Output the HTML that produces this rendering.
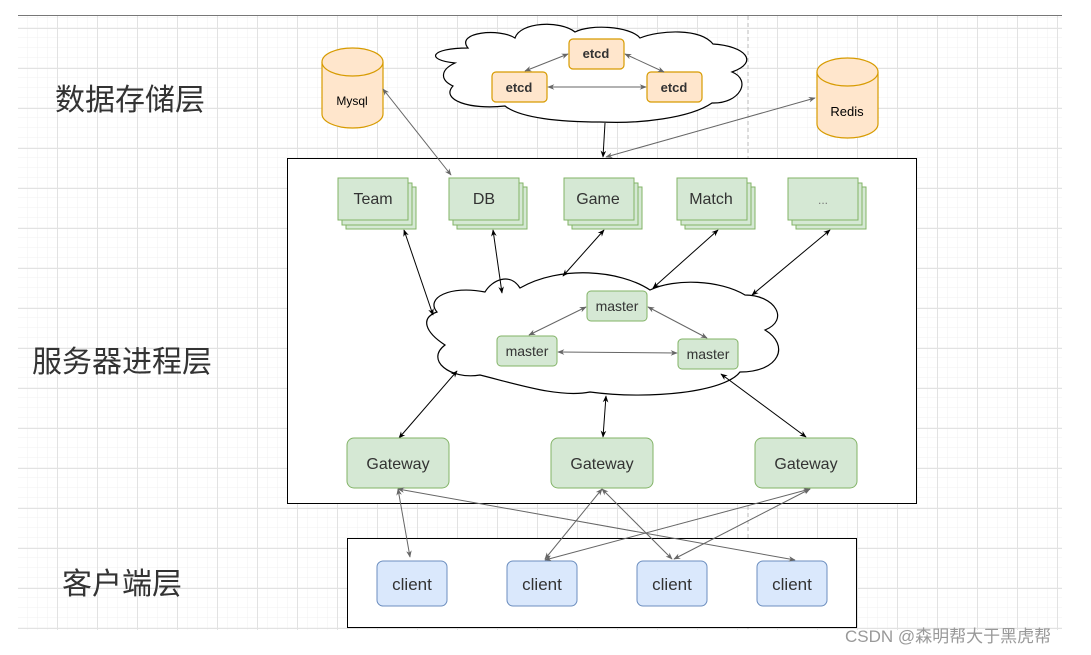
<!DOCTYPE html>
<html><head><meta charset="utf-8"><style>
html,body{margin:0;padding:0;background:#fff;}
svg{display:block;font-family:"Liberation Sans",Arial,sans-serif;}
.cn{font-family:"Liberation Sans","Noto Sans CJK SC",sans-serif;}
</style></head><body>
<svg width="1091" height="655" viewBox="0 0 1091 655" xmlns="http://www.w3.org/2000/svg">
<defs>
<pattern id="gmin" x="18" y="8" width="10" height="10" patternUnits="userSpaceOnUse">
<path d="M10 0V10M0 10H10" stroke="#f0f0f0" stroke-width="1" fill="none"/></pattern>
<pattern id="gmaj" x="17" y="28" width="40" height="40" patternUnits="userSpaceOnUse">
<path d="M0.5 0V40M0 0.5H40" stroke="#e2e2e2" stroke-width="1" fill="none"/></pattern>
<marker id="ag" viewBox="0 0 10 10" refX="9" refY="5" markerWidth="7" markerHeight="7" orient="auto-start-reverse"><path d="M0 1L10 5L0 9L3 5z" fill="#666"/></marker>
<marker id="ab" viewBox="0 0 10 10" refX="9" refY="5" markerWidth="7" markerHeight="7" orient="auto-start-reverse"><path d="M0 1L10 5L0 9L3 5z" fill="#000"/></marker>
</defs>
<rect x="18" y="15" width="1044" height="615" fill="url(#gmin)"/>
<rect x="18" y="15" width="1044" height="615" fill="url(#gmaj)"/>
<line x1="18" y1="15.5" x2="1062" y2="15.5" stroke="#777" stroke-width="1"/>
<line x1="748" y1="16" x2="748" y2="630" stroke="#bbb" stroke-dasharray="4 3"/>

<text class="cn" x="55" y="110" font-size="30" fill="#333">数据存储层</text>
<text class="cn" x="32" y="372" font-size="30" fill="#333">服务器进程层</text>
<text class="cn" x="62" y="594" font-size="30" fill="#333">客户端层</text>

<g fill="#ffe6cc" stroke="#d79b00" stroke-width="1.2">
<path d="M322 62V114A30.5 14 0 0 0 383 114V62"/>
<ellipse cx="352.5" cy="62" rx="30.5" ry="14"/>
<path d="M817 72V124A30.5 14 0 0 0 878 124V72"/>
<ellipse cx="847.5" cy="72" rx="30.5" ry="14"/>
</g>
<text x="352" y="105" font-size="12" text-anchor="middle" fill="#000">Mysql</text>
<text x="847" y="116" font-size="13" text-anchor="middle" fill="#000">Redis</text>

<path d="M468 48C455 32 500 28 515 38C520 22 560 20 575 32C590 24 630 26 640 38C660 30 700 28 713 44C745 46 760 62 732 72C752 80 740 104 712 103C690 118 640 124 600 122C560 122 520 118 505 106C470 110 440 100 453 86C440 80 440 70 455 63C425 60 430 48 468 48Z" fill="#fff" stroke="#000" stroke-width="1.2"/>
<g fill="#ffe6cc" stroke="#d79b00" stroke-width="1.2">
<rect x="569" y="39" width="55" height="30" rx="4"/>
<rect x="492" y="72" width="55" height="30" rx="4"/>
<rect x="647" y="72" width="55" height="30" rx="4"/>
</g>
<g font-size="13" font-weight="bold" text-anchor="middle" fill="#333">
<text x="596" y="58">etcd</text><text x="519" y="92">etcd</text><text x="674" y="92">etcd</text>
</g>
<g stroke="#666" stroke-width="1" marker-start="url(#ag)" marker-end="url(#ag)">
<line x1="568" y1="54" x2="525" y2="71"/>
<line x1="625" y1="54" x2="664" y2="72"/>
<line x1="548" y1="87" x2="646" y2="87"/>
</g>

<rect x="287.5" y="158.5" width="629" height="345" fill="#fff" stroke="#000" stroke-width="1"/>
<line x1="605" y1="123" x2="603" y2="157" stroke="#000" marker-end="url(#ab)"/>
<line x1="606" y1="157" x2="815" y2="98" stroke="#666" marker-start="url(#ag)" marker-end="url(#ag)"/>
<line x1="383" y1="89" x2="451" y2="175" stroke="#666" marker-start="url(#ag)" marker-end="url(#ag)"/>

<g fill="#d5e8d4" stroke="#82b366" stroke-width="1">
<rect x="346" y="187" width="70" height="42"/><rect x="342" y="183" width="70" height="42"/><rect x="338" y="178" width="70" height="42"/>
<rect x="457" y="187" width="70" height="42"/><rect x="453" y="183" width="70" height="42"/><rect x="449" y="178" width="70" height="42"/>
<rect x="572" y="187" width="70" height="42"/><rect x="568" y="183" width="70" height="42"/><rect x="564" y="178" width="70" height="42"/>
<rect x="685" y="187" width="70" height="42"/><rect x="681" y="183" width="70" height="42"/><rect x="677" y="178" width="70" height="42"/>
<rect x="796" y="187" width="70" height="42"/><rect x="792" y="183" width="70" height="42"/><rect x="788" y="178" width="70" height="42"/>
</g>
<g font-size="16" text-anchor="middle" fill="#333">
<text x="373" y="204">Team</text><text x="484" y="204">DB</text><text x="598" y="204">Game</text><text x="711" y="204">Match</text><text x="823" y="204" font-size="12" fill="#777">...</text>
</g>

<path d="M437 312C425 298 450 285 485 292C492 280 510 272 520 288C560 265 620 270 650 290C675 278 720 280 745 295C775 295 790 320 765 330C790 345 780 372 740 372C725 392 650 400 590 392C560 398 520 385 480 375C450 380 425 360 445 345C425 332 420 318 437 312Z" fill="#fff" stroke="#000" stroke-width="1.2"/>
<g fill="#d5e8d4" stroke="#82b366" stroke-width="1">
<rect x="587" y="291" width="60" height="30" rx="4"/>
<rect x="497" y="336" width="60" height="30" rx="4"/>
<rect x="678" y="339" width="60" height="30" rx="4"/>
</g>
<g font-size="14" text-anchor="middle" fill="#333">
<text x="617" y="311">master</text><text x="527" y="356">master</text><text x="708" y="359">master</text>
</g>
<g stroke="#666" stroke-width="1" marker-start="url(#ag)" marker-end="url(#ag)">
<line x1="586" y1="307" x2="529" y2="335"/>
<line x1="648" y1="307" x2="707" y2="338"/>
<line x1="558" y1="352" x2="677" y2="353"/>
</g>
<g stroke="#000" stroke-width="1" marker-start="url(#ab)" marker-end="url(#ab)">
<line x1="404" y1="230" x2="433" y2="315"/>
<line x1="493" y1="230" x2="502" y2="293"/>
<line x1="604" y1="230" x2="563" y2="276"/>
<line x1="718" y1="230" x2="653" y2="288"/>
<line x1="830" y1="230" x2="752" y2="295"/>
<line x1="457" y1="371" x2="399" y2="438"/>
<line x1="606" y1="396" x2="603" y2="437"/>
<line x1="721" y1="374" x2="806" y2="437"/>
</g>

<g fill="#d5e8d4" stroke="#82b366" stroke-width="1">
<rect x="347" y="438" width="102" height="50" rx="7"/>
<rect x="551" y="438" width="102" height="50" rx="7"/>
<rect x="755" y="438" width="102" height="50" rx="7"/>
</g>
<g font-size="16" text-anchor="middle" fill="#333">
<text x="398" y="469">Gateway</text><text x="602" y="469">Gateway</text><text x="806" y="469">Gateway</text>
</g>

<rect x="347.5" y="538.5" width="509" height="89" fill="#fff" stroke="#000" stroke-width="1"/>
<g fill="#dae8fc" stroke="#6c8ebf" stroke-width="1">
<rect x="377" y="561" width="70" height="45" rx="6"/>
<rect x="507" y="561" width="70" height="45" rx="6"/>
<rect x="637" y="561" width="70" height="45" rx="6"/>
<rect x="757" y="561" width="70" height="45" rx="6"/>
</g>
<g font-size="17" text-anchor="middle" fill="#333">
<text x="412" y="590">client</text><text x="542" y="590">client</text><text x="672" y="590">client</text><text x="792" y="590">client</text>
</g>
<g stroke="#666" stroke-width="1" marker-start="url(#ag)" marker-end="url(#ag)">
<line x1="398" y1="489" x2="410" y2="557"/>
<line x1="398" y1="489" x2="795" y2="560"/>
<line x1="602" y1="489" x2="545" y2="559"/>
<line x1="602" y1="489" x2="672" y2="559"/>
<line x1="810" y1="489" x2="545" y2="560"/>
<line x1="810" y1="489" x2="674" y2="559"/>
</g>

<text class="cn" x="845" y="642" font-size="17" fill="#999">CSDN @森明帮大于黑虎帮</text>
</svg>
</body></html>
